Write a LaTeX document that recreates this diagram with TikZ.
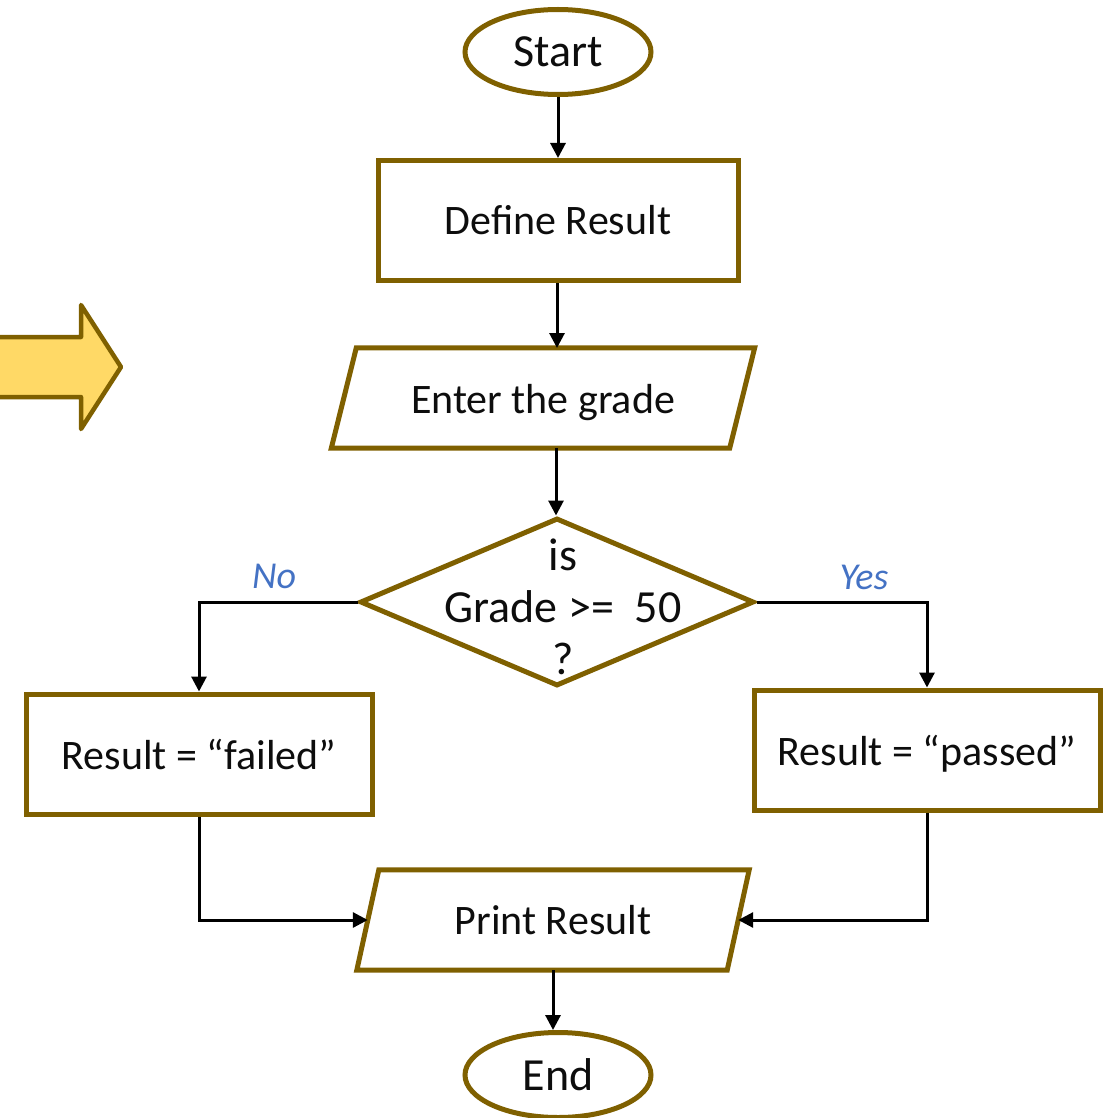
\documentclass[tikz,border=0pt]{standalone}
\usepackage{fontspec}
\setmainfont{Carlito}
\usetikzlibrary{shapes.geometric,arrows.meta}
\definecolor{brd}{RGB}{127,96,0}
\definecolor{arrfill}{RGB}{255,217,102}
\definecolor{lblue}{RGB}{68,114,196}
\definecolor{txt}{RGB}{13,13,13}
\newcommand{\lowertext}[2]{\raisebox{-#1}[\height][\depth]{#2}}
\begin{document}
\begin{tikzpicture}[x=1pt,y=-1pt,
 shapeline/.style={draw=brd, line width=5pt, line join=miter},
 term/.style={shapeline, ellipse, minimum width=186pt, minimum height=85pt, inner sep=0pt, font=\fontsize{46}{52}\selectfont, text=txt},
 procbox/.style={shapeline, rectangle, inner sep=0pt, font=\fontsize{42}{50}\selectfont, text=txt},
 iobox/.style={rectangle, inner sep=0pt, minimum height=100pt, font=\fontsize{42}{50}\selectfont, text=txt},
 decis/.style={shapeline, diamond, inner sep=0pt, minimum width=394pt, minimum height=168pt},
 conn/.style={line width=3pt, -{Triangle[length=15pt,width=15pt]}},
 lbl/.style={font=\fontsize{38}{44}\selectfont\itshape, text=lblue}]
\useasboundingbox (0,0) rectangle (1115,1118);

% big arrow on the left
\draw[draw=brd, line width=4.5pt, fill=arrfill, line join=round]
  (-10,337) -- (81,337) -- (81,305) -- (121,367) -- (81,429) -- (81,397) -- (-10,397) -- cycle;

% nodes
\node[term] (start) at (558,52) {Start};
\node[procbox, minimum width=360pt, minimum height=120pt] (define) at (558,220.5) {Define Result};
\node[iobox, minimum width=398pt] (enter) at (543,398) {\lowertext{5pt}{Enter the grade}};
\draw[shapeline] ([xshift=12.5pt]enter.north west) -- ([xshift=12.5pt]enter.north east)
  -- ([xshift=-12.5pt]enter.south east) -- ([xshift=-12.5pt]enter.south west) -- cycle;
\node[decis] (dec) at (557,602) {};
\node[align=center, font=\fontsize{46}{52}\selectfont, text=txt] (dectext) at (563,607) {is\\Grade >=\ \ 50\\?};
\node[procbox, minimum width=346pt, minimum height=120pt] (failed) at (199,754) {Result = “failed”};
\node[procbox, minimum width=346pt, minimum height=120pt] (passed) at (927,750) {\lowertext{4pt}{Result = “passed”}};
\node[iobox, minimum width=370pt] (print) at (553,920) {Print Result};
\draw[shapeline] ([xshift=11pt]print.north west) -- ([xshift=11pt]print.north east)
  -- ([xshift=-11pt]print.south east) -- ([xshift=-11pt]print.south west) -- cycle;
\node[term] (end) at (558,1075) {End};

% labels
\node[lbl] (no) at (274,576) {No};
\node[lbl] (yes) at (864,577) {Yes};

% connectors
\draw[conn] (start.south) -- (start.south |- define.north);
\draw[conn] (define.south -| 557,0) -- (557,348);
\draw[conn] (enter.south -| 556,0) -- (dec.north -| 556,0);
\draw[conn] (dec.west) -| (failed.north);
\draw[conn] (dec.east) -| (passed.north);
\draw[conn] (failed.south) |- (print.west);
\draw[conn] (passed.south) |- (print.east);
\draw[conn] (print.south) -- (end.north -| print.south);
\end{tikzpicture}
\end{document}
